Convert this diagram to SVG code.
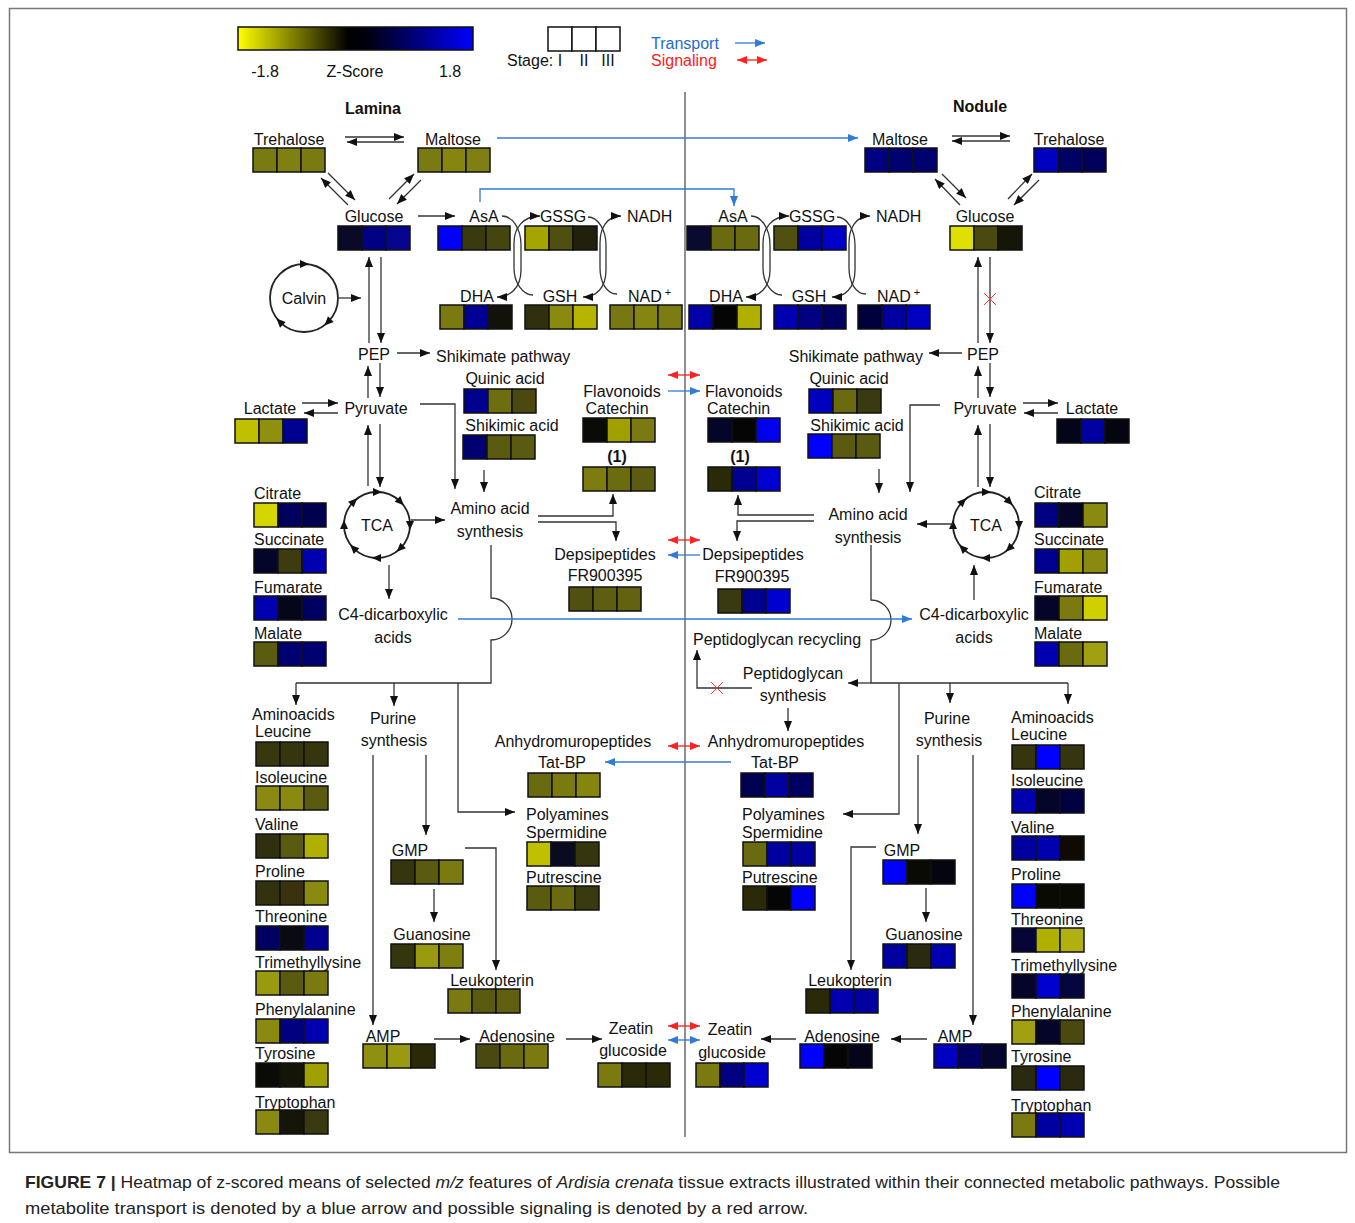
<svg xmlns="http://www.w3.org/2000/svg" xmlns:xlink="http://www.w3.org/1999/xlink" width="1355" height="1223" viewBox="0 0 1355 1223">
<style>
.t{font-family:"Liberation Sans",Arial,sans-serif;font-size:16px;fill:#111}
.m{text-anchor:middle}
.e{text-anchor:end}
.b{font-weight:bold}
.c{width:24px;height:24px;stroke:#111;stroke-width:1.5}
.k{fill:none;stroke:#333;stroke-width:1.3}
.ka{fill:none;stroke:#333;stroke-width:1.3;marker-end:url(#a)}
.bl{fill:none;stroke:#2f7bd6;stroke-width:1.3;marker-end:url(#ab)}
.bl2{fill:none;stroke:#2f7bd6;stroke-width:1.3;marker-start:url(#ab);marker-end:url(#ab)}
.rd{fill:none;stroke:#ff2020;stroke-width:1.3;marker-start:url(#ar);marker-end:url(#ar)}
.x{stroke:#ff3333;stroke-width:1}
.cy{fill:none;stroke:#222;stroke-width:1.8}
.cap{font-family:"Liberation Sans",Arial,sans-serif;font-size:17px;fill:#222}
</style>
<defs>
<marker id="a" viewBox="0 0 10 8" refX="10" refY="4" markerWidth="10" markerHeight="8" markerUnits="userSpaceOnUse" orient="auto-start-reverse"><path d="M0,0 L10,4 L0,8 z" fill="#111"/></marker>
<marker id="ab" viewBox="0 0 10 8" refX="10" refY="4" markerWidth="10" markerHeight="8" markerUnits="userSpaceOnUse" orient="auto-start-reverse"><path d="M0,0 L10,4 L0,8 z" fill="#2f7bd6"/></marker>
<marker id="ar" viewBox="0 0 10 8" refX="10" refY="4" markerWidth="10" markerHeight="8" markerUnits="userSpaceOnUse" orient="auto-start-reverse"><path d="M0,0 L10,4 L0,8 z" fill="#ff2020"/></marker>
<path id="th" d="M-4,-4 L5,0 L-4,4 z" fill="#111"/>
<linearGradient id="zg" x1="0" x2="1" y1="0" y2="0">
<stop offset="0" stop-color="#ffff00"/><stop offset="0.47" stop-color="#000000"/><stop offset="0.55" stop-color="#000010"/><stop offset="1" stop-color="#0000ff"/>
</linearGradient>
</defs>
<rect x="0" y="0" width="1355" height="1223" fill="#fff"/>
<rect x="9.5" y="8.5" width="1337" height="1144" fill="none" stroke="#777" stroke-width="1.5"/>

<g id="legend">
<rect x="238" y="27" width="235" height="23" fill="url(#zg)" stroke="#111" stroke-width="1.5"/>
<text class="t m" x="265" y="77">-1.8</text><text class="t m" x="355" y="77">Z-Score</text><text class="t m" x="450" y="77">1.8</text>
<rect class="c" x="548" y="27" fill="#fff"/><rect class="c" x="572" y="27" fill="#fff"/><rect class="c" x="596" y="27" fill="#fff"/>
<text class="t" x="507" y="66">Stage:</text><text class="t m" x="560" y="66">I</text><text class="t m" x="584" y="66">II</text><text class="t m" x="608" y="66">III</text>
<text class="t" x="651" y="49" style="fill:#1f6bcc">Transport</text>
<text class="t" x="651" y="66" style="fill:#ff1a1a">Signaling</text>
<path class="bl" d="M735,43 H765"/>
<path class="rd" d="M737,60 H767"/>
</g>

<g id="titles">
<text class="t m b" x="373" y="114">Lamina</text>
<text class="t m b" x="980" y="112">Nodule</text>
</g>

<g id="divider"><path d="M685,92 V1137" stroke="#555" stroke-width="1.3"/></g>

<!-- LAMINA NODES -->
<g id="L-trehalose"><text class="t m" x="289" y="145">Trehalose</text><rect class="c" x="253" y="148" fill="#7a7a12"/><rect class="c" x="277" y="148" fill="#7f7f12"/><rect class="c" x="301" y="148" fill="#7a7a12"/></g>
<g id="L-maltose"><text class="t m" x="453" y="145">Maltose</text><rect class="c" x="418" y="148" fill="#7a7a12"/><rect class="c" x="442" y="148" fill="#858510"/><rect class="c" x="466" y="148" fill="#7f7f12"/></g>
<g id="L-glucose"><text class="t m" x="374" y="222">Glucose</text><rect class="c" x="338" y="226" fill="#0a0a28"/><rect class="c" x="362" y="226" fill="#000085"/><rect class="c" x="386" y="226" fill="#05058f"/></g>
<g id="L-asa"><text class="t m" x="484" y="222">AsA</text><rect class="c" x="438" y="226" fill="#0000ff"/><rect class="c" x="462" y="226" fill="#3a3a10"/><rect class="c" x="486" y="226" fill="#454510"/></g>
<g id="L-gssg"><text class="t m" x="563" y="222">GSSG</text><rect class="c" x="525" y="226" fill="#a5a500"/><rect class="c" x="549" y="226" fill="#4f4f10"/><rect class="c" x="573" y="226" fill="#20200c"/></g>
<g id="L-nadh"><text class="t" x="627" y="222">NADH</text></g>
<g id="L-dha"><text class="t m" x="477" y="302">DHA</text><rect class="c" x="440" y="305" fill="#7a7a10"/><rect class="c" x="464" y="305" fill="#000095"/><rect class="c" x="488" y="305" fill="#12120a"/></g>
<g id="L-gsh"><text class="t m" x="560" y="302">GSH</text><rect class="c" x="525" y="305" fill="#30300e"/><rect class="c" x="549" y="305" fill="#8a8a10"/><rect class="c" x="573" y="305" fill="#b5b500"/></g>
<g id="L-nad"><text class="t" x="628" y="302">NAD<tspan dx="3" dy="-6" font-size="11">+</tspan></text><rect class="c" x="610" y="305" fill="#787812"/><rect class="c" x="634" y="305" fill="#858512"/><rect class="c" x="658" y="305" fill="#7c7c12"/></g>
<g id="L-calvin"><circle class="cy" cx="304" cy="298" r="34"/><text class="t m" x="304" y="304">Calvin</text>
<use href="#th" transform="translate(304,264) rotate(0)"/><use href="#th" transform="translate(328,322) rotate(135)"/><use href="#th" transform="translate(280,322) rotate(225)"/></g>
<g id="L-pep"><text class="t m" x="374" y="360">PEP</text></g>
<g id="L-shikimate"><text class="t" x="436" y="362">Shikimate pathway</text></g>
<g id="L-quinic"><text class="t m" x="505" y="384">Quinic acid</text><rect class="c" x="464" y="389" fill="#000090"/><rect class="c" x="488" y="389" fill="#6e6e10"/><rect class="c" x="512" y="389" fill="#4a4a10"/></g>
<g id="L-shikimic"><text class="t m" x="512" y="431">Shikimic acid</text><rect class="c" x="463" y="435" fill="#000070"/><rect class="c" x="487" y="435" fill="#5a5a10"/><rect class="c" x="511" y="435" fill="#5a5a10"/></g>
<g id="L-pyruvate"><text class="t m" x="376" y="414">Pyruvate</text></g>
<g id="L-lactate"><text class="t m" x="270" y="414">Lactate</text><rect class="c" x="235" y="419" fill="#c0c000"/><rect class="c" x="259" y="419" fill="#8f8f10"/><rect class="c" x="283" y="419" fill="#000090"/></g>
<g id="L-flavonoids"><text class="t m" x="622" y="397">Flavonoids</text><text class="t m" x="617" y="414">Catechin</text><rect class="c" x="583" y="418" fill="#0a0a06"/><rect class="c" x="607" y="418" fill="#a0a000"/><rect class="c" x="631" y="418" fill="#7a7a10"/></g>
<g id="L-one"><text class="t m b" x="617" y="462">(1)</text><rect class="c" x="583" y="467" fill="#7c7c10"/><rect class="c" x="607" y="467" fill="#6b6b10"/><rect class="c" x="631" y="467" fill="#5c5c10"/></g>
<g id="L-tca"><circle class="cy" cx="377" cy="525" r="33"/><text class="t m" x="377" y="531">TCA</text>
<use href="#th" transform="translate(377,492) rotate(0)"/><use href="#th" transform="translate(400.3,501.7) rotate(45)"/><use href="#th" transform="translate(410,525) rotate(90)"/><use href="#th" transform="translate(400.3,548.3) rotate(135)"/><use href="#th" transform="translate(377,558) rotate(180)"/><use href="#th" transform="translate(353.7,548.3) rotate(225)"/><use href="#th" transform="translate(344,525) rotate(270)"/><use href="#th" transform="translate(353.7,501.7) rotate(315)"/></g>
<g id="L-citrate"><text class="t" x="254" y="499">Citrate</text><rect class="c" x="254" y="503" fill="#d5d500"/><rect class="c" x="278" y="503" fill="#00005c"/><rect class="c" x="302" y="503" fill="#000050"/></g>
<g id="L-succinate"><text class="t" x="254" y="545">Succinate</text><rect class="c" x="254" y="549" fill="#05052a"/><rect class="c" x="278" y="549" fill="#3c3c10"/><rect class="c" x="302" y="549" fill="#0000b0"/></g>
<g id="L-fumarate"><text class="t" x="254" y="593">Fumarate</text><rect class="c" x="254" y="596" fill="#0000b0"/><rect class="c" x="278" y="596" fill="#06061a"/><rect class="c" x="302" y="596" fill="#000060"/></g>
<g id="L-malate"><text class="t" x="254" y="639">Malate</text><rect class="c" x="254" y="642" fill="#5c5c10"/><rect class="c" x="278" y="642" fill="#000070"/><rect class="c" x="302" y="642" fill="#000070"/></g>
<g id="L-aasynth"><text class="t m" x="490" y="514">Amino acid</text><text class="t m" x="490" y="537">synthesis</text></g>
<g id="L-c4"><text class="t m" x="393" y="620">C4-dicarboxylic</text><text class="t m" x="393" y="643">acids</text></g>
<g id="L-depsi"><text class="t m" x="605" y="560">Depsipeptides</text><text class="t m" x="605" y="581">FR900395</text><rect class="c" x="569" y="587" fill="#505010"/><rect class="c" x="593" y="587" fill="#5e5e10"/><rect class="c" x="617" y="587" fill="#626210"/></g>
<g id="L-aminoacids"><text class="t" x="252" y="720">Aminoacids</text>
<text class="t" x="255" y="737">Leucine</text><rect class="c" x="256" y="742" fill="#38380e"/><rect class="c" x="280" y="742" fill="#35350e"/><rect class="c" x="304" y="742" fill="#35350e"/>
<text class="t" x="255" y="783">Isoleucine</text><rect class="c" x="256" y="786" fill="#8a8a10"/><rect class="c" x="280" y="786" fill="#8a8a10"/><rect class="c" x="304" y="786" fill="#5a5a10"/>
<text class="t" x="255" y="830">Valine</text><rect class="c" x="256" y="834" fill="#30300e"/><rect class="c" x="280" y="834" fill="#5a5a10"/><rect class="c" x="304" y="834" fill="#b0b000"/>
<text class="t" x="255" y="877">Proline</text><rect class="c" x="256" y="881" fill="#32320e"/><rect class="c" x="280" y="881" fill="#3a320e"/><rect class="c" x="304" y="881" fill="#8a8a10"/>
<text class="t" x="255" y="922">Threonine</text><rect class="c" x="256" y="926" fill="#000060"/><rect class="c" x="280" y="926" fill="#0a0a12"/><rect class="c" x="304" y="926" fill="#000090"/>
<text class="t" x="255" y="968">Trimethyllysine</text><rect class="c" x="256" y="971" fill="#9a9a10"/><rect class="c" x="280" y="971" fill="#5a5a10"/><rect class="c" x="304" y="971" fill="#7a7a10"/>
<text class="t" x="255" y="1015">Phenylalanine</text><rect class="c" x="256" y="1019" fill="#8a8a10"/><rect class="c" x="280" y="1019" fill="#000080"/><rect class="c" x="304" y="1019" fill="#0000b0"/>
<text class="t" x="255" y="1059">Tyrosine</text><rect class="c" x="256" y="1063" fill="#0a0a06"/><rect class="c" x="280" y="1063" fill="#141408"/><rect class="c" x="304" y="1063" fill="#a0a000"/>
<text class="t" x="255" y="1108">Tryptophan</text><rect class="c" x="256" y="1110" fill="#8a8a10"/><rect class="c" x="280" y="1110" fill="#151508"/><rect class="c" x="304" y="1110" fill="#3a3a10"/></g>
<g id="L-purine"><text class="t m" x="393" y="724">Purine</text><text class="t m" x="394" y="746">synthesis</text></g>
<g id="L-anhydro"><text class="t m" x="573" y="747">Anhydromuropeptides</text></g>
<g id="L-tatbp"><text class="t m" x="562" y="768">Tat-BP</text><rect class="c" x="528" y="773" fill="#6a6a10"/><rect class="c" x="552" y="773" fill="#7a7a10"/><rect class="c" x="576" y="773" fill="#858510"/></g>
<g id="L-polyamines"><text class="t" x="526" y="820">Polyamines</text><text class="t" x="526" y="838">Spermidine</text><rect class="c" x="527" y="842" fill="#c0c000"/><rect class="c" x="551" y="842" fill="#0a0a20"/><rect class="c" x="575" y="842" fill="#353510"/>
<text class="t" x="526" y="883">Putrescine</text><rect class="c" x="527" y="886" fill="#5a5a10"/><rect class="c" x="551" y="886" fill="#6a6a10"/><rect class="c" x="575" y="886" fill="#3a3a10"/></g>
<g id="L-gmp"><text class="t m" x="410" y="856">GMP</text><rect class="c" x="391" y="860" fill="#35350e"/><rect class="c" x="415" y="860" fill="#5a5a10"/><rect class="c" x="439" y="860" fill="#7a7a10"/></g>
<g id="L-guanosine"><text class="t m" x="432" y="940">Guanosine</text><rect class="c" x="391" y="944" fill="#35350e"/><rect class="c" x="415" y="944" fill="#9a9a10"/><rect class="c" x="439" y="944" fill="#7f7f10"/></g>
<g id="L-leukopterin"><text class="t m" x="492" y="986">Leukopterin</text><rect class="c" x="448" y="989" fill="#7a7a10"/><rect class="c" x="472" y="989" fill="#5a5a10"/><rect class="c" x="496" y="989" fill="#606010"/></g>
<g id="L-amp"><text class="t m" x="383" y="1042">AMP</text><rect class="c" x="363" y="1044" fill="#8f8f10"/><rect class="c" x="387" y="1044" fill="#9a9a10"/><rect class="c" x="411" y="1044" fill="#2a2a08"/></g>
<g id="L-adenosine"><text class="t m" x="517" y="1042">Adenosine</text><rect class="c" x="476" y="1044" fill="#4a4a10"/><rect class="c" x="500" y="1044" fill="#6a6a10"/><rect class="c" x="524" y="1044" fill="#7a7a10"/></g>
<g id="L-zeatin"><text class="t m" x="631" y="1034">Zeatin</text><text class="t m" x="633" y="1056">glucoside</text><rect class="c" x="598" y="1063" fill="#7a7a10"/><rect class="c" x="622" y="1063" fill="#2a2a08"/><rect class="c" x="646" y="1063" fill="#2a2a08"/></g>

<!-- NODULE NODES -->
<g id="N-maltose"><text class="t m" x="900" y="145">Maltose</text><rect class="c" x="865" y="148" fill="#000080"/><rect class="c" x="889" y="148" fill="#000070"/><rect class="c" x="913" y="148" fill="#000070"/></g>
<g id="N-trehalose"><text class="t m" x="1069" y="145">Trehalose</text><rect class="c" x="1034" y="148" fill="#0000c0"/><rect class="c" x="1058" y="148" fill="#000065"/><rect class="c" x="1082" y="148" fill="#00005c"/></g>
<g id="N-glucose"><text class="t m" x="985" y="222">Glucose</text><rect class="c" x="950" y="226" fill="#e0e000"/><rect class="c" x="974" y="226" fill="#4a4a10"/><rect class="c" x="998" y="226" fill="#151508"/></g>
<g id="N-asa"><text class="t m" x="733" y="222">AsA</text><rect class="c" x="687" y="226" fill="#0a0a30"/><rect class="c" x="711" y="226" fill="#6a6a10"/><rect class="c" x="735" y="226" fill="#6a6a10"/></g>
<g id="N-gssg"><text class="t m" x="812" y="222">GSSG</text><rect class="c" x="774" y="226" fill="#505010"/><rect class="c" x="798" y="226" fill="#0000a0"/><rect class="c" x="822" y="226" fill="#0000c8"/></g>
<g id="N-nadh"><text class="t" x="876" y="222">NADH</text></g>
<g id="N-dha"><text class="t m" x="726" y="302">DHA</text><rect class="c" x="689" y="305" fill="#0000a8"/><rect class="c" x="713" y="305" fill="#050505"/><rect class="c" x="737" y="305" fill="#b0b000"/></g>
<g id="N-gsh"><text class="t m" x="809" y="302">GSH</text><rect class="c" x="774" y="305" fill="#0000b0"/><rect class="c" x="798" y="305" fill="#000080"/><rect class="c" x="822" y="305" fill="#000060"/></g>
<g id="N-nad"><text class="t" x="877" y="302">NAD<tspan dx="3" dy="-6" font-size="11">+</tspan></text><rect class="c" x="858" y="305" fill="#00003c"/><rect class="c" x="882" y="305" fill="#0000a0"/><rect class="c" x="906" y="305" fill="#0000c0"/></g>
<g id="N-pep"><text class="t m" x="983" y="360">PEP</text></g>
<g id="N-shikimate"><text class="t e" x="923" y="362">Shikimate pathway</text></g>
<g id="N-quinic"><text class="t m" x="849" y="384">Quinic acid</text><rect class="c" x="809" y="389" fill="#0000c0"/><rect class="c" x="833" y="389" fill="#6a6a10"/><rect class="c" x="857" y="389" fill="#3a3a10"/></g>
<g id="N-shikimic"><text class="t m" x="857" y="431">Shikimic acid</text><rect class="c" x="808" y="434" fill="#0000ff"/><rect class="c" x="832" y="434" fill="#5a5a10"/><rect class="c" x="856" y="434" fill="#5a5a10"/></g>
<g id="N-pyruvate"><text class="t m" x="985" y="414">Pyruvate</text></g>
<g id="N-lactate"><text class="t m" x="1092" y="414">Lactate</text><rect class="c" x="1057" y="419" fill="#05051a"/><rect class="c" x="1081" y="419" fill="#0000a0"/><rect class="c" x="1105" y="419" fill="#05050f"/></g>
<g id="N-flavonoids"><text class="t" x="705" y="397">Flavonoids</text><text class="t" x="707" y="414">Catechin</text><rect class="c" x="708" y="418" fill="#05052a"/><rect class="c" x="732" y="418" fill="#050505"/><rect class="c" x="756" y="418" fill="#0000ee"/></g>
<g id="N-one"><text class="t m b" x="740" y="462">(1)</text><rect class="c" x="708" y="467" fill="#2a2a08"/><rect class="c" x="732" y="467" fill="#000090"/><rect class="c" x="756" y="467" fill="#0000d0"/></g>
<g id="N-tca"><circle class="cy" cx="986" cy="525" r="33"/><text class="t m" x="986" y="531">TCA</text>
<use href="#th" transform="translate(986,492) rotate(0)"/><use href="#th" transform="translate(1009.3,501.7) rotate(45)"/><use href="#th" transform="translate(1019,525) rotate(90)"/><use href="#th" transform="translate(1009.3,548.3) rotate(135)"/><use href="#th" transform="translate(986,558) rotate(180)"/><use href="#th" transform="translate(962.7,548.3) rotate(225)"/><use href="#th" transform="translate(953,525) rotate(270)"/><use href="#th" transform="translate(962.7,501.7) rotate(315)"/></g>
<g id="N-citrate"><text class="t" x="1034" y="498">Citrate</text><rect class="c" x="1035" y="503" fill="#000080"/><rect class="c" x="1059" y="503" fill="#05052a"/><rect class="c" x="1083" y="503" fill="#8a8a10"/></g>
<g id="N-succinate"><text class="t" x="1034" y="545">Succinate</text><rect class="c" x="1035" y="549" fill="#000090"/><rect class="c" x="1059" y="549" fill="#a0a000"/><rect class="c" x="1083" y="549" fill="#8a8a10"/></g>
<g id="N-fumarate"><text class="t" x="1034" y="593">Fumarate</text><rect class="c" x="1035" y="596" fill="#05052a"/><rect class="c" x="1059" y="596" fill="#7a7a10"/><rect class="c" x="1083" y="596" fill="#d0d000"/></g>
<g id="N-malate"><text class="t" x="1034" y="639">Malate</text><rect class="c" x="1035" y="642" fill="#0000b0"/><rect class="c" x="1059" y="642" fill="#6a6a10"/><rect class="c" x="1083" y="642" fill="#a0a010"/></g>
<g id="N-aasynth"><text class="t m" x="868" y="520">Amino acid</text><text class="t m" x="868" y="543">synthesis</text></g>
<g id="N-c4"><text class="t m" x="974" y="620">C4-dicarboxylic</text><text class="t m" x="974" y="643">acids</text></g>
<g id="N-depsi"><text class="t m" x="753" y="560">Depsipeptides</text><text class="t m" x="752" y="582">FR900395</text><rect class="c" x="718" y="589" fill="#3a3a10"/><rect class="c" x="742" y="589" fill="#000090"/><rect class="c" x="766" y="589" fill="#0000d0"/></g>
<g id="N-pgrecycling"><text class="t m" x="777" y="645">Peptidoglycan recycling</text></g>
<g id="N-pgsynth"><text class="t m" x="793" y="679">Peptidoglycan</text><text class="t m" x="793" y="701">synthesis</text></g>
<g id="N-anhydro"><text class="t m" x="786" y="747">Anhydromuropeptides</text></g>
<g id="N-tatbp"><text class="t m" x="775" y="768">Tat-BP</text><rect class="c" x="741" y="773" fill="#000050"/><rect class="c" x="765" y="773" fill="#0000a0"/><rect class="c" x="789" y="773" fill="#000060"/></g>
<g id="N-polyamines"><text class="t" x="742" y="820">Polyamines</text><text class="t" x="742" y="838">Spermidine</text><rect class="c" x="743" y="842" fill="#6a6a10"/><rect class="c" x="767" y="842" fill="#0000a0"/><rect class="c" x="791" y="842" fill="#0000a0"/>
<text class="t" x="742" y="883">Putrescine</text><rect class="c" x="743" y="886" fill="#2a2a08"/><rect class="c" x="767" y="886" fill="#050505"/><rect class="c" x="791" y="886" fill="#0000ff"/></g>
<g id="N-purine"><text class="t m" x="947" y="724">Purine</text><text class="t m" x="949" y="746">synthesis</text></g>
<g id="N-gmp"><text class="t m" x="902" y="856">GMP</text><rect class="c" x="883" y="860" fill="#0000ff"/><rect class="c" x="907" y="860" fill="#0a0a05"/><rect class="c" x="931" y="860" fill="#05050f"/></g>
<g id="N-guanosine"><text class="t m" x="924" y="940">Guanosine</text><rect class="c" x="883" y="944" fill="#0000a0"/><rect class="c" x="907" y="944" fill="#2a2a10"/><rect class="c" x="931" y="944" fill="#0000b0"/></g>
<g id="N-leukopterin"><text class="t m" x="850" y="986">Leukopterin</text><rect class="c" x="806" y="989" fill="#2a2a08"/><rect class="c" x="830" y="989" fill="#0000b0"/><rect class="c" x="854" y="989" fill="#0000a0"/></g>
<g id="N-amp"><text class="t m" x="955" y="1042">AMP</text><rect class="c" x="934" y="1044" fill="#0000c0"/><rect class="c" x="958" y="1044" fill="#000060"/><rect class="c" x="982" y="1044" fill="#050530"/></g>
<g id="N-adenosine"><text class="t m" x="842" y="1042">Adenosine</text><rect class="c" x="800" y="1044" fill="#0000ff"/><rect class="c" x="824" y="1044" fill="#050505"/><rect class="c" x="848" y="1044" fill="#05051a"/></g>
<g id="N-zeatin"><text class="t m" x="730" y="1035">Zeatin</text><text class="t m" x="732" y="1058">glucoside</text><rect class="c" x="696" y="1063" fill="#7a7a10"/><rect class="c" x="720" y="1063" fill="#000080"/><rect class="c" x="744" y="1063" fill="#0000d0"/></g>
<g id="N-aminoacids"><text class="t" x="1011" y="723">Aminoacids</text>
<text class="t" x="1011" y="740">Leucine</text><rect class="c" x="1012" y="745" fill="#353510"/><rect class="c" x="1036" y="745" fill="#0000ff"/><rect class="c" x="1060" y="745" fill="#353510"/>
<text class="t" x="1011" y="786">Isoleucine</text><rect class="c" x="1012" y="789" fill="#0000b0"/><rect class="c" x="1036" y="789" fill="#05052a"/><rect class="c" x="1060" y="789" fill="#000040"/>
<text class="t" x="1011" y="833">Valine</text><rect class="c" x="1012" y="836" fill="#0000a0"/><rect class="c" x="1036" y="836" fill="#0000b0"/><rect class="c" x="1060" y="836" fill="#100a05"/>
<text class="t" x="1011" y="880">Proline</text><rect class="c" x="1012" y="884" fill="#0000ff"/><rect class="c" x="1036" y="884" fill="#0a0a05"/><rect class="c" x="1060" y="884" fill="#0a0a05"/>
<text class="t" x="1011" y="925">Threonine</text><rect class="c" x="1012" y="928" fill="#05053a"/><rect class="c" x="1036" y="928" fill="#b0b000"/><rect class="c" x="1060" y="928" fill="#b0b010"/>
<text class="t" x="1011" y="971">Trimethyllysine</text><rect class="c" x="1012" y="974" fill="#05052a"/><rect class="c" x="1036" y="974" fill="#0000d0"/><rect class="c" x="1060" y="974" fill="#050540"/>
<text class="t" x="1011" y="1017">Phenylalanine</text><rect class="c" x="1012" y="1020" fill="#a0a010"/><rect class="c" x="1036" y="1020" fill="#05052a"/><rect class="c" x="1060" y="1020" fill="#4a4a10"/>
<text class="t" x="1011" y="1062">Tyrosine</text><rect class="c" x="1012" y="1066" fill="#2a2a10"/><rect class="c" x="1036" y="1066" fill="#0000ff"/><rect class="c" x="1060" y="1066" fill="#2a2a10"/>
<text class="t" x="1011" y="1111">Tryptophan</text><rect class="c" x="1012" y="1113" fill="#7a7a10"/><rect class="c" x="1036" y="1113" fill="#0000a0"/><rect class="c" x="1060" y="1113" fill="#0000b0"/></g>

<!-- CONNECTORS -->
<g id="connectors">
<!-- lamina -->
<path class="ka" d="M345,137 H404"/><path class="ka" d="M404,142 H347"/>
<path class="ka" d="M328,173 L355,200"/><path class="ka" d="M348,205 L321,178"/>
<path class="ka" d="M389,199 L414,174"/><path class="ka" d="M421,180 L397,204"/>
<path class="ka" d="M418,216 H455"/>
<path class="ka" d="M502,216 C512,216 521,228 521,245 L521,270 C521,288 510,297 497,297"/>
<path class="ka" d="M533,295 C523,295 514,283 514,268 L514,243 C514,228 523,216 540,216"/>
<path class="ka" d="M588,217 C598,217 606,230 606,245 L606,270 C606,288 596,297 583,297"/>
<path class="ka" d="M617,294 C607,294 600,283 600,268 L600,243 C600,228 607,216 621,216"/>
<path class="ka" d="M339,298 H361"/>
<path class="ka" d="M369,343 V257"/><path class="ka" d="M381,257 V343"/>
<path class="ka" d="M397,353 H430"/>
<path class="ka" d="M368,398 V366"/><path class="ka" d="M380,363 V397"/>
<path class="ka" d="M302,403 H338"/><path class="ka" d="M338,413 H304"/>
<path class="ka" d="M368,486 V425"/><path class="ka" d="M380,424 V487"/>
<path class="ka" d="M420,404 H455 V489"/>
<path class="ka" d="M484,470 V492"/>
<path class="ka" d="M411,520 H445"/>
<path class="ka" d="M389,565 V599"/>
<path class="ka" d="M538,516 H613 V494"/>
<path class="ka" d="M538,522 H616 V541"/>
<path class="k" d="M491,545 V598 A21,21 0 0 1 491,640 V683 H296"/>
<path class="ka" d="M296,683 V705"/><path class="ka" d="M394,683 V706"/>
<path class="ka" d="M458,683 V812 H515"/>
<path class="ka" d="M373,755 V1025"/>
<path class="ka" d="M426,755 V835"/>
<path class="ka" d="M465,848 H496 V970"/>
<path class="ka" d="M434,889 V922"/>
<path class="ka" d="M434,1039 H470"/>
<path class="ka" d="M566,1039 H602"/>
<!-- nodule -->
<path class="ka" d="M952,136 H1010"/><path class="ka" d="M1010,141 H952"/>
<path class="ka" d="M942,174 L966,198"/><path class="ka" d="M960,205 L935,179"/>
<path class="ka" d="M1008,199 L1032,174"/><path class="ka" d="M1039,180 L1014,205"/>
<path class="ka" d="M751,216 C761,216 770,228 770,245 L770,270 C770,288 759,297 746,297"/>
<path class="ka" d="M782,295 C772,295 763,283 763,268 L763,243 C763,228 772,216 789,216"/>
<path class="ka" d="M837,217 C847,217 855,230 855,245 L855,270 C855,288 845,297 832,297"/>
<path class="ka" d="M866,294 C856,294 849,283 849,268 L849,243 C849,228 856,216 870,216"/>
<path class="ka" d="M978,343 V257"/><path class="ka" d="M990,257 V343"/>
<path class="ka" d="M962,353 H929"/>
<path class="ka" d="M978,398 V366"/><path class="ka" d="M990,363 V397"/>
<path class="ka" d="M1023,403 H1058"/><path class="ka" d="M1058,413 H1024"/>
<path class="ka" d="M978,487 V425"/><path class="ka" d="M990,424 V487"/>
<path class="ka" d="M940,405 H910 V492"/>
<path class="ka" d="M879,469 V493"/>
<path class="ka" d="M953,524 H917"/>
<path class="ka" d="M974,600 V565"/>
<path class="ka" d="M814,515 H738 V495"/>
<path class="ka" d="M814,521 H737 V541"/>
<path class="k" d="M871,545 V600 A20,20 0 0 1 871,640 V683 H1068"/>
<path class="ka" d="M871,683 H848"/>
<path class="ka" d="M1068,683 V704"/><path class="ka" d="M950,683 V703"/>
<path class="ka" d="M899,683 V814 H843"/>
<path class="ka" d="M752,688 H697 V650"/>
<path class="ka" d="M788,708 V731"/>
<path class="ka" d="M918,755 V834"/>
<path class="ka" d="M973,755 V1025"/>
<path class="ka" d="M876,847 H851 V970"/>
<path class="ka" d="M926,888 V922"/>
<path class="ka" d="M927,1039 H891"/>
<path class="ka" d="M796,1039 H761"/>
<!-- blocked -->
<path class="x" d="M984,293 L996,305 M996,293 L984,305"/>
<path class="x" d="M711,682 L723,694 M723,682 L711,694"/>
<!-- transport -->
<path class="bl" d="M497,138 H858"/>
<path class="bl" d="M480,202 V189 H734 V206"/>
<path class="bl" d="M668,391 H700"/>
<path class="bl" d="M700,555 H668"/>
<path class="bl" d="M458,619 H912"/>
<path class="bl" d="M731,762 H605"/>
<path class="bl2" d="M668,1040 H700"/>
<!-- signaling -->
<path class="rd" d="M668,375 H700"/>
<path class="rd" d="M668,540 H700"/>
<path class="rd" d="M668,746 H700"/>
<path class="rd" d="M668,1026 H700"/>
</g>

<g id="caption">
<text class="cap" x="25" y="1188" textLength="1255" lengthAdjust="spacingAndGlyphs"><tspan font-weight="bold">FIGURE 7 | </tspan>Heatmap of z-scored means of selected <tspan font-style="italic">m/z</tspan> features of <tspan font-style="italic">Ardisia crenata</tspan> tissue extracts illustrated within their connected metabolic pathways. Possible</text>
<text class="cap" x="25" y="1214" textLength="783" lengthAdjust="spacingAndGlyphs">metabolite transport is denoted by a blue arrow and possible signaling is denoted by a red arrow.</text>
</g>
</svg>
